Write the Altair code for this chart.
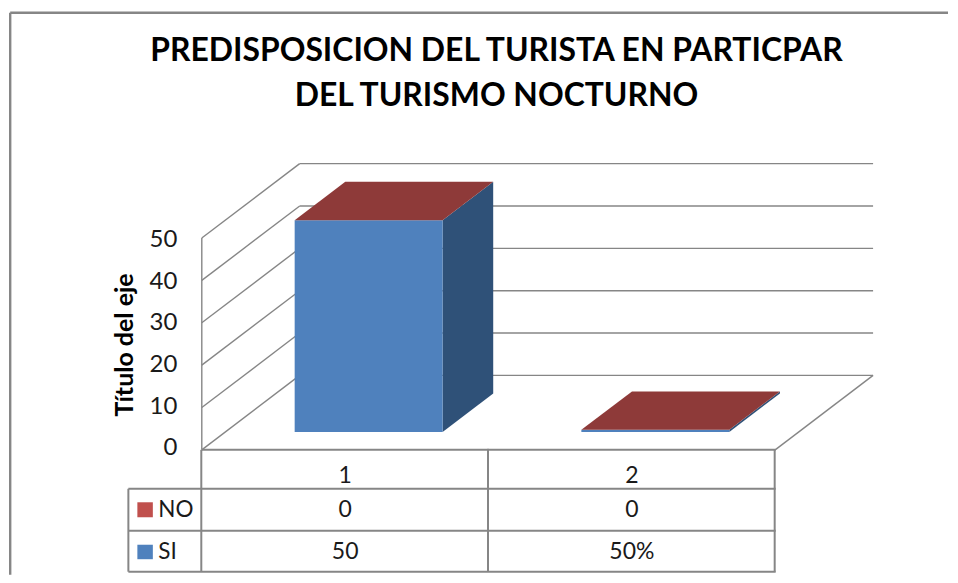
import altair as alt
import pandas as pd

# ---- chart values ----
categories = ["1", "2"]
series_names = ["NO", "SI"]
si_values = [50, 0.5]
no_values = [0, 0]
si_labels = ["50", "50%"]
no_labels = ["0", "0"]
y_ticks = [0, 10, 20, 30, 40, 50]
title_lines = ["PREDISPOSICION DEL TURISTA EN PARTICPAR", "DEL TURISMO NOCTURNO"]
axis_title = "Título del eje"

# ---- oblique projection (category, value, depth) -> page pixels ----
X0, Y0 = 201.0, 450.0
CAT_W, VAL_H = 287.0, 4.24
DEPTH_X, DEPTH_Y = 98.0, 74.5
GAP = 0.242        # side gap of a bar inside its category
D0, D1 = 0.24, 0.757  # depth span of the bars
PAGE_L, PAGE_R, PAGE_B = 9, 948, 575


def sx(c, d=0.0):
    return X0 + c * CAT_W + d * DEPTH_X


def sy(v, d=0.0):
    return Y0 - v * VAL_H - d * DEPTH_Y


XS = alt.Scale(domain=[PAGE_L, PAGE_R], nice=False, zero=False)
YS = alt.Scale(domain=[PAGE_B, 8], nice=False, zero=False)
GREY = "#868686"
FONT = "Lato"


def rules(rows, color=GREY, width=1.5):
    df = pd.DataFrame(rows, columns=["x", "y", "x2", "y2"])
    return alt.Chart(df).mark_rule(color=color, strokeWidth=width).encode(
        x=alt.X("x:Q", scale=XS, axis=None),
        y=alt.Y("y:Q", scale=YS, axis=None),
        x2="x2:Q",
        y2="y2:Q",
    )


def rect(x, x2, y, y2, color):
    df = pd.DataFrame([{"x": x, "x2": x2, "y": y, "y2": y2}])
    return alt.Chart(df).mark_rect(color=color).encode(
        x=alt.X("x:Q", scale=XS, axis=None),
        x2="x2:Q",
        y=alt.Y("y:Q", scale=YS, axis=None),
        y2="y2:Q",
    )


def side_face(c1, v0, v1, color):
    df = pd.DataFrame({
        "x": [sx(c1, D0), sx(c1, D1)],
        "y": [sy(v0, D0), sy(v0, D1)],
        "y2": [sy(v1, D0), sy(v1, D1)],
    })
    return alt.Chart(df).mark_area(color=color, interpolate="linear").encode(
        x=alt.X("x:Q", scale=XS, axis=None),
        y=alt.Y("y:Q", scale=YS, axis=None),
        y2="y2:Q",
    )


def top_face(c0, c1, v, color):
    df = pd.DataFrame({
        "y": [sy(v, D0), sy(v, D1)],
        "x": [sx(c0, D0), sx(c0, D1)],
        "x2": [sx(c1, D0), sx(c1, D1)],
    })
    return alt.Chart(df).mark_area(color=color, orient="horizontal", interpolate="linear").encode(
        y=alt.Y("y:Q", scale=YS, axis=None),
        x=alt.X("x:Q", scale=XS, axis=None),
        x2="x2:Q",
    )


def text(rows, size, align="center", weight="normal", angle=0, baseline="middle", color="#1a1a1a"):
    df = pd.DataFrame(rows, columns=["x", "y", "t"])
    kw = {"angle": angle} if angle else {}
    return alt.Chart(df).mark_text(
        font=FONT, fontSize=size, align=align, baseline=baseline,
        fontWeight=weight, color=color, **kw
    ).encode(
        x=alt.X("x:Q", scale=XS, axis=None),
        y=alt.Y("y:Q", scale=YS, axis=None),
        text="t:N",
    )


layers = []

# chart frame (open on the cropped right and bottom sides)
layers.append(rules([[9.2, 12.5, PAGE_R, 12.5], [9.2, 12.5, 9.2, PAGE_B]], width=2.4))

# walls, floor and gridlines
n_cat = len(categories)
grid = []
for v in y_ticks:
    grid.append([sx(0), sy(v), sx(0, 1), sy(v, 1)])
    grid.append([sx(0, 1), sy(v, 1), sx(n_cat, 1), sy(v, 1)])
grid.append([sx(n_cat), sy(0), sx(n_cat, 1), sy(0, 1)])
grid.append([sx(0), sy(0), sx(0), sy(y_ticks[-1])])
layers.append(rules(grid, width=1.4))

# bars
for i, (si, no) in enumerate(zip(si_values, no_values)):
    c0, c1 = i + GAP, i + 1 - GAP
    layers.append(side_face(c1, 0, si, "#2F5178"))
    layers.append(rect(sx(c0, D0), sx(c1, D0), sy(si, D0), sy(0, D0), "#4F81BD"))
    layers.append(top_face(c0, c1, si + no, "#8E3A39"))

# data table
ROW_Y = [489.0, 531.0, 572.0]
LEFT = 127.5
table = [[sx(0), sy(0), sx(n_cat) + 0.5, sy(0)]]
for y in ROW_Y:
    table.append([LEFT, y, sx(n_cat) + 0.5, y])
table.append([LEFT, ROW_Y[0], LEFT, ROW_Y[-1]])
for c in range(n_cat + 1):
    table.append([sx(c) - 0.5, sy(0) - (1 if c == 1 else 0), sx(c) - 0.5, ROW_Y[-1]])
layers.append(rules(table, width=2))

layers.append(rect(136.5, 152, 502.5, 517.5, "#C0504D"))
layers.append(rect(136.5, 152, 545, 559.5, "#4F81BD"))

T = 23
cols = [sx(i + 0.5) for i in range(n_cat)]
cells = []
for x, cat, no, si in zip(cols, categories, no_labels, si_labels):
    cells += [[x, 476, cat], [x, 510.5, no], [x, 552.5, si]]
layers.append(text(cells, T))
layers.append(text([[157.5, 510.5, series_names[0]], [157.5, 552.5, series_names[1]]], T - 0.5, align="left"))
layers.append(text([[176.5, 448.5 - (v * 4.17), str(v)] for v in y_ticks], T + 1, align="right"))
layers.append(text([[124, 345, axis_title]], 25, weight="bold", angle=270, color="#000000"))
layers.append(text([[496, 61, title_lines[0]], [496, 106, title_lines[1]]], 31.9, weight="bold",
                   baseline="alphabetic", color="#000000"))

chart = alt.layer(*layers).properties(
    width=939, height=567, padding=0, background="white"
).configure_view(stroke=None)

chart.save("out.html", embed_options={"renderer": "svg", "actions": False})
